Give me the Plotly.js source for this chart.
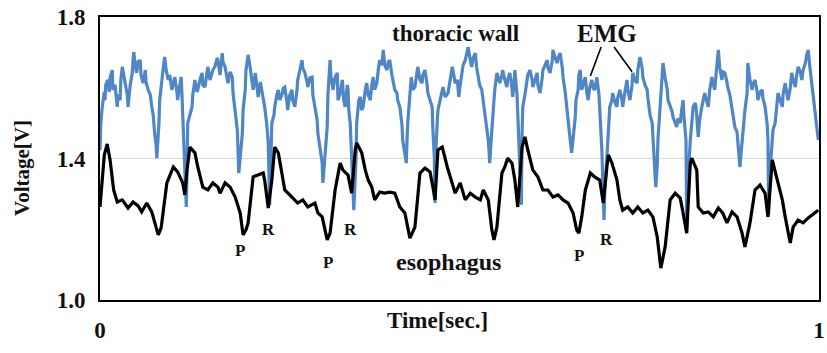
<!DOCTYPE html>
<html>
<head>
<meta charset="utf-8">
<script src="https://cdn.plot.ly/plotly-3.0.1.min.js"></script>
<style>html,body{margin:0;padding:0;background:#fff;}#chart{width:827px;height:353px;}</style>
</head>
<body>
<div id="chart"></div>
<script>
// thoracic wall (EMG) trace: time [s], voltage [V]
const thoracicTime = [0.000,0.001,0.003,0.006,0.007,0.008,0.011,0.013,0.014,0.017,0.018,0.021,0.024,0.025,0.028,0.029,0.031,0.033,0.035,0.038,0.039,0.042,0.045,0.046,0.047,0.049,0.051,0.053,0.056,0.057,0.060,0.063,0.064,0.067,0.070,0.072,0.074,0.076,0.078,0.079,0.081,0.082,0.083,0.086,0.088,0.090,0.092,0.095,0.097,0.100,0.102,0.104,0.107,0.108,0.111,0.113,0.114,0.115,0.117,0.120,0.121,0.122,0.125,0.128,0.129,0.132,0.135,0.136,0.139,0.142,0.143,0.146,0.149,0.150,0.153,0.157,0.160,0.163,0.164,0.167,0.170,0.171,0.174,0.177,0.178,0.181,0.184,0.185,0.188,0.191,0.193,0.195,0.198,0.199,0.202,0.203,0.206,0.209,0.211,0.213,0.216,0.218,0.220,0.223,0.225,0.227,0.229,0.232,0.234,0.236,0.238,0.239,0.242,0.243,0.246,0.248,0.250,0.253,0.255,0.257,0.260,0.261,0.264,0.267,0.268,0.271,0.274,0.275,0.278,0.281,0.282,0.285,0.288,0.289,0.292,0.295,0.296,0.299,0.302,0.303,0.306,0.309,0.310,0.313,0.316,0.317,0.320,0.321,0.324,0.327,0.330,0.331,0.334,0.337,0.339,0.341,0.344,0.345,0.346,0.348,0.350,0.353,0.356,0.357,0.360,0.362,0.364,0.366,0.369,0.371,0.373,0.376,0.378,0.380,0.382,0.385,0.387,0.389,0.392,0.394,0.396,0.399,0.401,0.403,0.406,0.408,0.410,0.413,0.414,0.417,0.420,0.421,0.424,0.426,0.427,0.428,0.431,0.433,0.435,0.438,0.441,0.442,0.445,0.448,0.449,0.452,0.455,0.456,0.459,0.462,0.463,0.465,0.466,0.467,0.469,0.470,0.473,0.476,0.477,0.480,0.484,0.487,0.490,0.492,0.494,0.497,0.499,0.501,0.504,0.505,0.508,0.510,0.512,0.515,0.517,0.519,0.522,0.524,0.526,0.528,0.531,0.533,0.535,0.538,0.540,0.541,0.542,0.544,0.547,0.549,0.552,0.554,0.556,0.559,0.560,0.563,0.566,0.567,0.570,0.573,0.574,0.576,0.577,0.580,0.581,0.583,0.586,0.587,0.588,0.591,0.594,0.595,0.598,0.601,0.602,0.605,0.608,0.609,0.612,0.615,0.616,0.619,0.622,0.623,0.626,0.629,0.630,0.633,0.636,0.637,0.640,0.643,0.644,0.647,0.649,0.651,0.654,0.656,0.658,0.661,0.662,0.665,0.666,0.668,0.669,0.670,0.673,0.675,0.677,0.679,0.681,0.684,0.686,0.688,0.690,0.691,0.694,0.695,0.697,0.698,0.701,0.702,0.705,0.707,0.709,0.712,0.713,0.716,0.719,0.720,0.723,0.726,0.727,0.730,0.733,0.734,0.737,0.740,0.741,0.744,0.747,0.748,0.751,0.754,0.755,0.758,0.761,0.762,0.764,0.765,0.768,0.769,0.771,0.772,0.773,0.775,0.776,0.779,0.780,0.782,0.783,0.786,0.789,0.790,0.793,0.796,0.797,0.800,0.802,0.804,0.807,0.809,0.811,0.812,0.815,0.816,0.818,0.821,0.823,0.825,0.828,0.829,0.832,0.834,0.837,0.839,0.841,0.844,0.846,0.848,0.851,0.853,0.855,0.858,0.860,0.862,0.865,0.866,0.869,0.872,0.873,0.876,0.879,0.880,0.883,0.886,0.887,0.889,0.890,0.892,0.894,0.897,0.900,0.901,0.904,0.907,0.908,0.911,0.914,0.915,0.918,0.921,0.922,0.925,0.928,0.929,0.930,0.932,0.935,0.936,0.939,0.942,0.943,0.946,0.949,0.950,0.953,0.955,0.957,0.960,0.962,0.964,0.967,0.969,0.971,0.974,0.976,0.978,0.981,0.983,0.985,0.987,0.990,0.992,0.994,0.997,0.999];
const thoracicVolt = [1.424,1.495,1.543,1.588,1.565,1.608,1.622,1.588,1.628,1.650,1.594,1.608,1.546,1.580,1.565,1.622,1.659,1.628,1.613,1.580,1.546,1.608,1.642,1.678,1.701,1.664,1.642,1.673,1.678,1.636,1.613,1.650,1.616,1.594,1.580,1.546,1.523,1.472,1.438,1.401,1.452,1.500,1.565,1.630,1.656,1.687,1.650,1.622,1.636,1.594,1.616,1.630,1.588,1.565,1.608,1.630,1.580,1.517,1.424,1.263,1.367,1.500,1.523,1.546,1.580,1.622,1.588,1.594,1.622,1.642,1.608,1.602,1.645,1.659,1.622,1.650,1.661,1.684,1.678,1.636,1.698,1.673,1.659,1.628,1.613,1.645,1.630,1.585,1.537,1.481,1.359,1.410,1.472,1.537,1.594,1.650,1.693,1.656,1.630,1.594,1.642,1.599,1.574,1.616,1.594,1.565,1.546,1.495,1.444,1.269,1.424,1.500,1.523,1.546,1.580,1.594,1.565,1.580,1.599,1.602,1.560,1.537,1.580,1.594,1.565,1.546,1.594,1.622,1.650,1.678,1.656,1.642,1.616,1.602,1.628,1.630,1.580,1.546,1.509,1.472,1.424,1.387,1.331,1.424,1.489,1.580,1.678,1.636,1.594,1.630,1.642,1.565,1.585,1.622,1.565,1.546,1.608,1.594,1.537,1.500,1.404,1.254,1.396,1.500,1.565,1.574,1.537,1.546,1.594,1.613,1.580,1.565,1.608,1.630,1.594,1.613,1.650,1.678,1.664,1.707,1.664,1.650,1.673,1.678,1.636,1.613,1.594,1.585,1.565,1.546,1.495,1.452,1.410,1.387,1.452,1.500,1.580,1.630,1.594,1.602,1.645,1.659,1.622,1.613,1.636,1.650,1.608,1.585,1.565,1.546,1.481,1.404,1.274,1.420,1.500,1.537,1.565,1.594,1.602,1.574,1.585,1.622,1.659,1.636,1.613,1.622,1.574,1.608,1.642,1.664,1.678,1.693,1.715,1.678,1.659,1.684,1.698,1.656,1.630,1.608,1.594,1.565,1.537,1.495,1.452,1.424,1.387,1.452,1.546,1.594,1.642,1.622,1.613,1.636,1.650,1.622,1.602,1.622,1.642,1.599,1.574,1.616,1.650,1.580,1.529,1.466,1.269,1.466,1.546,1.580,1.622,1.636,1.650,1.622,1.602,1.622,1.642,1.608,1.585,1.628,1.650,1.664,1.678,1.656,1.642,1.678,1.707,1.684,1.670,1.684,1.698,1.656,1.630,1.588,1.546,1.495,1.452,1.416,1.452,1.517,1.565,1.594,1.636,1.650,1.616,1.594,1.616,1.630,1.588,1.565,1.599,1.622,1.599,1.594,1.616,1.630,1.580,1.546,1.495,1.424,1.226,1.311,1.404,1.481,1.546,1.565,1.585,1.560,1.546,1.571,1.594,1.565,1.546,1.588,1.622,1.594,1.565,1.608,1.642,1.622,1.613,1.650,1.687,1.656,1.630,1.608,1.594,1.571,1.546,1.523,1.500,1.452,1.404,1.353,1.319,1.382,1.452,1.537,1.594,1.636,1.670,1.628,1.594,1.565,1.546,1.531,1.517,1.503,1.489,1.514,1.500,1.537,1.565,1.523,1.452,1.198,1.339,1.452,1.514,1.546,1.557,1.546,1.461,1.509,1.546,1.565,1.585,1.560,1.546,1.594,1.630,1.608,1.594,1.664,1.707,1.656,1.622,1.645,1.642,1.616,1.602,1.580,1.546,1.523,1.489,1.475,1.452,1.410,1.376,1.424,1.472,1.537,1.585,1.670,1.622,1.594,1.608,1.622,1.588,1.565,1.588,1.594,1.571,1.546,1.495,1.452,1.240,1.367,1.452,1.481,1.500,1.551,1.585,1.565,1.546,1.580,1.613,1.588,1.565,1.599,1.642,1.622,1.602,1.636,1.659,1.645,1.622,1.650,1.670,1.693,1.707,1.664,1.613,1.580,1.546,1.495,1.452];

// esophagus trace: time [s], voltage [V]
const esophagusTime = [0.000,0.003,0.006,0.010,0.014,0.019,0.024,0.031,0.039,0.046,0.053,0.058,0.065,0.072,0.076,0.081,0.085,0.089,0.093,0.102,0.108,0.115,0.118,0.121,0.125,0.132,0.136,0.143,0.150,0.157,0.164,0.167,0.174,0.181,0.188,0.195,0.199,0.203,0.206,0.213,0.220,0.227,0.229,0.234,0.239,0.243,0.248,0.253,0.257,0.267,0.275,0.282,0.289,0.299,0.303,0.309,0.313,0.316,0.320,0.327,0.334,0.338,0.345,0.350,0.355,0.357,0.364,0.369,0.373,0.378,0.382,0.389,0.396,0.403,0.410,0.417,0.424,0.431,0.438,0.445,0.452,0.459,0.463,0.466,0.470,0.476,0.483,0.490,0.494,0.501,0.508,0.515,0.522,0.529,0.533,0.540,0.545,0.548,0.552,0.559,0.563,0.567,0.573,0.577,0.581,0.587,0.591,0.595,0.602,0.609,0.616,0.623,0.630,0.637,0.644,0.651,0.658,0.663,0.666,0.670,0.675,0.682,0.688,0.695,0.700,0.705,0.707,0.712,0.719,0.723,0.727,0.734,0.741,0.748,0.755,0.762,0.769,0.775,0.780,0.786,0.793,0.800,0.807,0.811,0.816,0.821,0.823,0.830,0.832,0.839,0.846,0.853,0.860,0.866,0.872,0.879,0.886,0.893,0.897,0.904,0.911,0.918,0.925,0.929,0.935,0.942,0.949,0.953,0.960,0.964,0.971,0.978,0.985,0.994,0.999];
const esophagusVolt = [1.263,1.339,1.410,1.441,1.396,1.311,1.277,1.283,1.260,1.277,1.266,1.249,1.274,1.249,1.220,1.184,1.204,1.269,1.331,1.376,1.362,1.331,1.297,1.367,1.432,1.416,1.376,1.319,1.311,1.331,1.319,1.302,1.331,1.319,1.291,1.246,1.184,1.198,1.218,1.348,1.353,1.359,1.339,1.260,1.339,1.432,1.416,1.359,1.311,1.291,1.274,1.283,1.263,1.274,1.246,1.235,1.192,1.170,1.189,1.311,1.387,1.367,1.353,1.302,1.424,1.444,1.416,1.367,1.339,1.319,1.283,1.305,1.302,1.305,1.302,1.263,1.246,1.175,1.206,1.359,1.373,1.362,1.319,1.283,1.424,1.432,1.376,1.331,1.302,1.331,1.283,1.302,1.291,1.283,1.311,1.283,1.198,1.170,1.206,1.359,1.376,1.401,1.387,1.339,1.263,1.432,1.461,1.424,1.367,1.348,1.311,1.311,1.291,1.297,1.283,1.274,1.246,1.198,1.189,1.235,1.311,1.359,1.348,1.339,1.274,1.376,1.410,1.387,1.339,1.283,1.254,1.263,1.246,1.263,1.246,1.254,1.235,1.178,1.090,1.150,1.283,1.302,1.288,1.246,1.189,1.387,1.401,1.367,1.263,1.246,1.249,1.235,1.260,1.246,1.218,1.249,1.235,1.189,1.150,1.218,1.311,1.325,1.302,1.235,1.396,1.339,1.283,1.235,1.161,1.206,1.226,1.218,1.232,1.246,1.254];

const yTicks = [1.0, 1.4, 1.8];
const xTickVals = [0, 1];
const xTickText = ['0', '1'];

const serif = 'Liberation Serif, Times New Roman, serif';

const traces = [
  {x: thoracicTime, y: thoracicVolt, type: 'scatter', mode: 'lines',
   line: {color: '#4f86c6', width: 3.2}, hoverinfo: 'skip', showlegend: false},
  {x: esophagusTime, y: esophagusVolt, type: 'scatter', mode: 'lines',
   line: {color: '#000000', width: 3.2}, hoverinfo: 'skip', showlegend: false}
];

function label(text, x, y, size) {
  return {text: '<b>' + text + '</b>', x: x, y: y, xref: 'x', yref: 'y', showarrow: false,
          font: {family: serif, size: size, color: '#111'}, xanchor: 'center', yanchor: 'middle'};
}

const layout = {
  width: 827, height: 353,
  margin: {l: 100, r: 8, t: 17, b: 53},
  paper_bgcolor: '#fff', plot_bgcolor: '#fff',
  showlegend: false,
  xaxis: {range: [0, 1], showline: true, mirror: true, linecolor: '#000', linewidth: 2,
          showgrid: false, zeroline: false, ticks: '', tickvals: xTickVals, ticktext: xTickText,
          ticklabelstandoff: 8,
          tickfont: {family: serif, size: 23, color: '#111', weight: 'bold'}},
  yaxis: {range: [1.0, 1.8], showline: true, mirror: true, linecolor: '#000', linewidth: 2,
          showgrid: true, gridcolor: '#d9d9d9', gridwidth: 1, zeroline: false, ticks: '',
          tickvals: yTicks, tickformat: '.1f', ticklabelstandoff: 8,
          tickfont: {family: serif, size: 23, color: '#111', weight: 'bold'}},
  annotations: [
    label('thoracic wall', 0.494, 1.752, 23),
    label('EMG', 0.705, 1.752, 25),
    label('esophagus', 0.484, 1.107, 24),
    label('P', 0.195, 1.141, 17),
    label('P', 0.317, 1.107, 17),
    label('P', 0.666, 1.127, 17),
    label('R', 0.234, 1.198, 17),
    label('R', 0.349, 1.198, 17),
    label('R', 0.704, 1.170, 17),
    {text: '<b>Time[sec.]</b>', x: 0.470, y: -0.074, xref: 'paper', yref: 'paper', showarrow: false,
     font: {family: serif, size: 23, color: '#111'}, xanchor: 'center', yanchor: 'middle'},
    {text: '<b>Voltage[V]</b>', x: -0.1085, y: 0.466, xref: 'paper', yref: 'paper', showarrow: false,
     textangle: -90, font: {family: serif, size: 21, color: '#111'}, xanchor: 'center', yanchor: 'middle'}
  ],
  shapes: [
    {type: 'line', xref: 'x', yref: 'y', x0: 0.697, y0: 1.715, x1: 0.682, y1: 1.633, line: {color: '#000', width: 1.6}},
    {type: 'line', xref: 'x', yref: 'y', x0: 0.715, y0: 1.715, x1: 0.740, y1: 1.645, line: {color: '#000', width: 1.6}}
  ]
};

Plotly.newPlot('chart', traces, layout, {staticPlot: true, displayModeBar: false});
</script>
</body>
</html>
